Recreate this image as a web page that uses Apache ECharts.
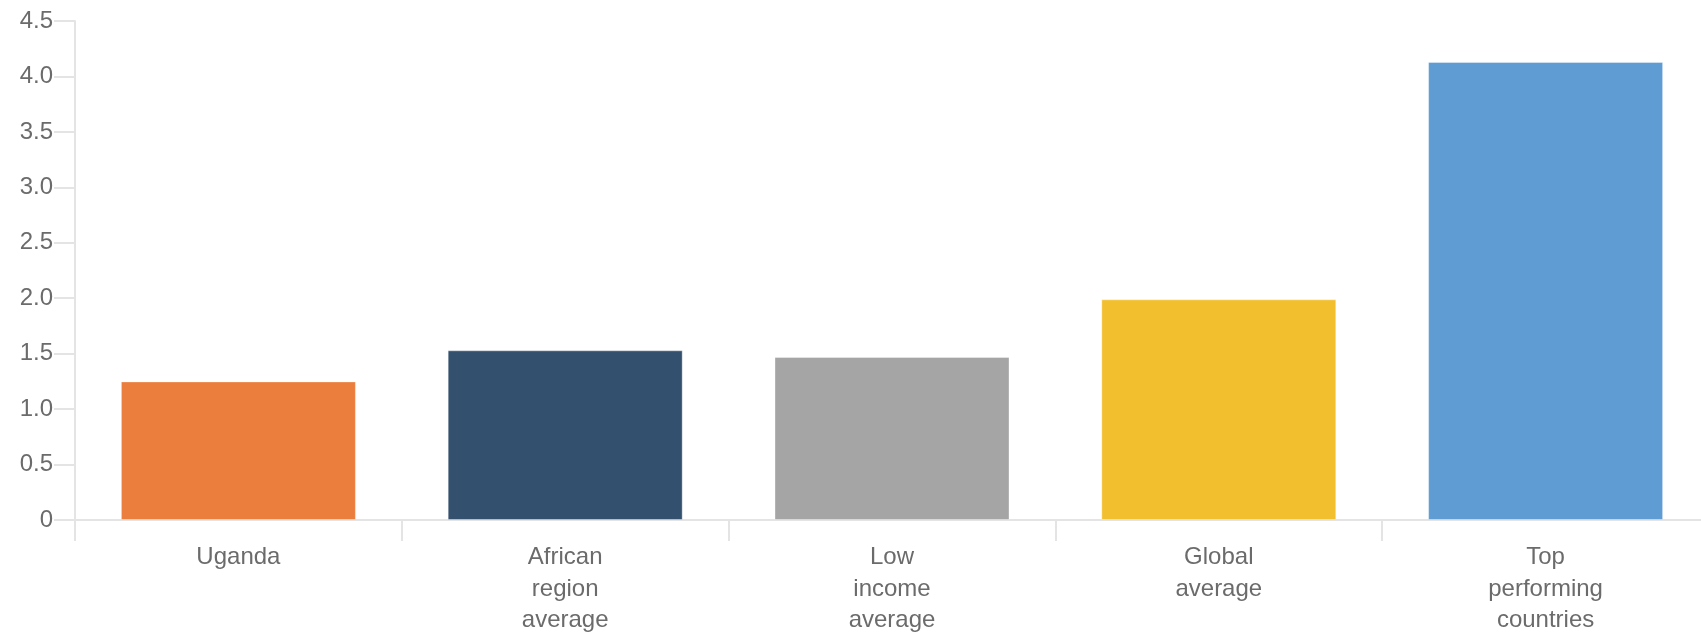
<!DOCTYPE html>
<html>
<head>
<meta charset="utf-8">
<script src="https://cdn.jsdelivr.net/npm/echarts@6/dist/echarts.min.js"></script>
<style>
html,body{margin:0;padding:0;background:#fff;}
#main{width:1701px;height:632px;}
</style>
</head>
<body>
<div id="main"></div>
<script>
var categories = ['Uganda', 'African\nregion\naverage', 'Low\nincome\naverage', 'Global\naverage', 'Top\nperforming\ncountries'];
var values = [1.25, 1.53, 1.47, 1.99, 4.13];
var barColors = ['#EB7E3D', '#34506F', '#A5A5A5', '#F2BF2E', '#5E9CD3'];
var yTicks = [0, 0.5, 1.0, 1.5, 2.0, 2.5, 3.0, 3.5, 4.0, 4.5];

var myChart = echarts.init(document.getElementById('main'));

var seriesData = [];
for (var i = 0; i < values.length; i++) {
    seriesData.push({
        value: values[i],
        itemStyle: {color: barColors[i]}
    });
}

var axisGray = '#e4e4e4';
var labelGray = '#6b6b6b';
var fontName = 'Arial, "Liberation Sans", sans-serif';

var option = {
    animation: false,
    grid: {
        left: 75,
        top: 21,
        width: 1634,   // wider than the window, last category runs off the right edge
        bottom: 112,
        containLabel: false,
        outerBoundsMode: 'none'
    },
    xAxis: {
        type: 'category',
        data: categories,
        axisLine: {show: true, lineStyle: {color: axisGray, width: 2}},
        axisTick: {show: true, length: 21, lineStyle: {color: axisGray, width: 2}},
        axisLabel: {
            color: labelGray,
            fontSize: 24,
            fontFamily: fontName,
            lineHeight: 31.5,
            margin: 22,
            interval: 0
        }
    },
    yAxis: {
        type: 'value',
        min: yTicks[0],
        max: yTicks[yTicks.length - 1],
        interval: 0.5,
        axisLine: {show: true, lineStyle: {color: axisGray, width: 2}},
        axisTick: {show: true, length: 21, lineStyle: {color: axisGray, width: 2}},
        splitLine: {show: false},
        axisLabel: {
            color: labelGray,
            fontSize: 24,
            fontFamily: fontName,
            margin: 22,
            formatter: function (v) {
                return v === 0 ? '0' : v.toFixed(1);
            }
        }
    },
    series: [{
        type: 'bar',
        data: seriesData,
        barWidth: 235,
        itemStyle: {borderColor: 'rgba(255,255,255,0.35)', borderWidth: 1}
    }]
};

myChart.setOption(option);
</script>
</body>
</html>
